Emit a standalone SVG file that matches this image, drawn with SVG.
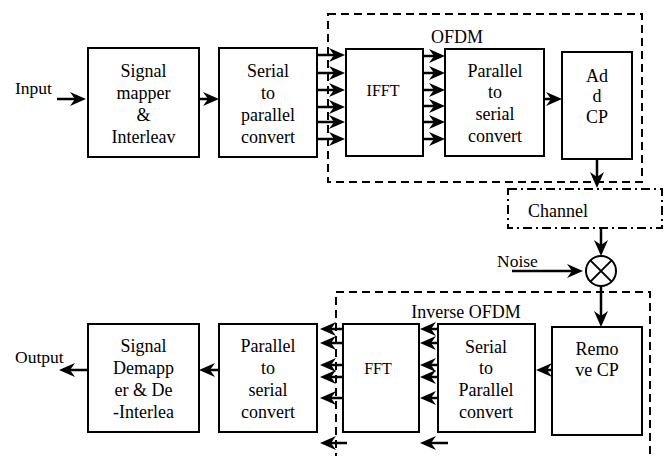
<svg xmlns="http://www.w3.org/2000/svg" xmlns:xlink="http://www.w3.org/1999/xlink" width="667" height="456" viewBox="0 0 667 456">
  <style>
    .box { fill: #fff; stroke: #000; stroke-width: 2; }
    .grp { fill: none; stroke: #000; stroke-width: 2; stroke-dasharray: 8 5; }
    .chan { fill: none; stroke: #000; stroke-width: 2; stroke-dasharray: 9 4 2 4; }
    .wire { fill: none; stroke: #000; stroke-width: 2.5; }
  </style>
  <defs>
    <!-- notched arrowhead, tip at the origin, pointing along +x -->
    <path id="ah" d="M0,0 L-16,-7 L-11,0 L-16,7 Z" fill="#000"/>
  </defs>

  <rect id="ofdm-frame" class="grp" x="328" y="14" width="314" height="168"/>
  <rect id="inverse-ofdm-frame" class="grp" x="336" y="292" width="314" height="180"/>

  <g id="connectors">
    <g class="wire">
      <path d="M57,99 H80 M199,99 H213"/>
      <path d="M317,55 H339 M317,73 H339 M317,90 H339 M317,107 H339 M317,122 H339 M317,139 H339"/>
      <path d="M423,56 H439 M423,73 H439 M423,90 H439 M423,106 H439 M423,122 H439 M423,139 H439"/>
      <path d="M544,99 H556"/>
      <path d="M597,145 V182 M601,228 V250 M512,271 H577 M601,286 V321"/>
      <path d="M552,370 H542"/>
      <path d="M439,329 H426 M439,343 H426 M439,365 H426 M439,377 H426 M439,398 H426 M448,443 H426"/>
      <path d="M343,329 H326 M343,343 H326 M343,365 H326 M343,377 H326 M343,398 H326 M347,443 H326"/>
      <path d="M219,370 H205 M88,370 H65"/>
    </g>
    <g id="heads">
      <use xlink:href="#ah" href="#ah" transform="translate(86,99)"/>
      <use xlink:href="#ah" href="#ah" transform="translate(219,99)"/>
      <use xlink:href="#ah" href="#ah" transform="translate(345,55)"/>
      <use xlink:href="#ah" href="#ah" transform="translate(345,73)"/>
      <use xlink:href="#ah" href="#ah" transform="translate(345,90)"/>
      <use xlink:href="#ah" href="#ah" transform="translate(345,107)"/>
      <use xlink:href="#ah" href="#ah" transform="translate(345,122)"/>
      <use xlink:href="#ah" href="#ah" transform="translate(345,139)"/>
      <use xlink:href="#ah" href="#ah" transform="translate(445,56)"/>
      <use xlink:href="#ah" href="#ah" transform="translate(445,73)"/>
      <use xlink:href="#ah" href="#ah" transform="translate(445,90)"/>
      <use xlink:href="#ah" href="#ah" transform="translate(445,106)"/>
      <use xlink:href="#ah" href="#ah" transform="translate(445,122)"/>
      <use xlink:href="#ah" href="#ah" transform="translate(445,139)"/>
      <use xlink:href="#ah" href="#ah" transform="translate(562,99)"/>
      <use xlink:href="#ah" href="#ah" transform="translate(597,188) rotate(90)"/>
      <use xlink:href="#ah" href="#ah" transform="translate(601,256) rotate(90)"/>
      <use xlink:href="#ah" href="#ah" transform="translate(583,271)"/>
      <use xlink:href="#ah" href="#ah" transform="translate(601,327) rotate(90)"/>
      <use xlink:href="#ah" href="#ah" transform="translate(536,370) rotate(180)"/>
      <use xlink:href="#ah" href="#ah" transform="translate(420,329) rotate(180)"/>
      <use xlink:href="#ah" href="#ah" transform="translate(420,343) rotate(180)"/>
      <use xlink:href="#ah" href="#ah" transform="translate(420,365) rotate(180)"/>
      <use xlink:href="#ah" href="#ah" transform="translate(420,377) rotate(180)"/>
      <use xlink:href="#ah" href="#ah" transform="translate(420,398) rotate(180)"/>
      <use xlink:href="#ah" href="#ah" transform="translate(420,443) rotate(180)"/>
      <use xlink:href="#ah" href="#ah" transform="translate(320,329) rotate(180)"/>
      <use xlink:href="#ah" href="#ah" transform="translate(320,343) rotate(180)"/>
      <use xlink:href="#ah" href="#ah" transform="translate(320,365) rotate(180)"/>
      <use xlink:href="#ah" href="#ah" transform="translate(320,377) rotate(180)"/>
      <use xlink:href="#ah" href="#ah" transform="translate(320,398) rotate(180)"/>
      <use xlink:href="#ah" href="#ah" transform="translate(320,443) rotate(180)"/>
      <use xlink:href="#ah" href="#ah" transform="translate(199,370) rotate(180)"/>
      <use xlink:href="#ah" href="#ah" transform="translate(59,370) rotate(180)"/>
    </g>
  </g>

  <g id="boxes" font-family="Liberation Serif, Times New Roman, serif" font-size="18" text-anchor="middle" fill="#000">
    <g id="frame-labels">
      <text x="457" y="43">OFDM</text>
      <text x="466" y="318">Inverse OFDM</text>
    </g>
    <g id="input">
      <text x="15" y="94" text-anchor="start" font-size="17.5">Input</text>
    </g>
    <g id="signal-mapper">
      <rect class="box" x="88" y="48" width="111" height="109"/>
      <text x="143.5" y="77">Signal</text>
      <text x="143.5" y="99">mapper</text>
      <text x="143.5" y="121">&amp;</text>
      <text x="143.5" y="143">Interleav</text>
    </g>
    <g id="serial-to-parallel-tx">
      <rect class="box" x="219" y="48" width="98" height="109"/>
      <text x="268" y="77">Serial</text>
      <text x="268" y="99">to</text>
      <text x="268" y="121">parallel</text>
      <text x="268" y="143">convert</text>
    </g>
    <g id="ifft">
      <rect class="box" x="346" y="49" width="77" height="107"/>
      <text x="383" y="96" font-size="16">IFFT</text>
    </g>
    <g id="parallel-to-serial-tx">
      <rect class="box" x="445" y="49" width="99" height="107"/>
      <text x="495" y="77">Parallel</text>
      <text x="495" y="98">to</text>
      <text x="495" y="120">serial</text>
      <text x="495" y="142">convert</text>
    </g>
    <g id="add-cp">
      <rect class="box" x="562" y="52" width="70" height="107"/>
      <text x="597" y="82">Ad</text>
      <text x="597" y="102">d</text>
      <text x="597" y="123">CP</text>
    </g>
    <g id="channel">
      <rect class="chan" x="508" y="189" width="154" height="39"/>
      <text x="558" y="217">Channel</text>
    </g>
    <g id="noise">
      <text x="497" y="267" text-anchor="start" font-size="17.5">Noise</text>
    </g>
    <g id="mixer">
      <circle cx="601" cy="271" r="15" fill="#fff" stroke="#000" stroke-width="2"/>
      <path d="M590.4,260.4 L611.6,281.6 M611.6,260.4 L590.4,281.6" stroke="#000" stroke-width="2"/>
    </g>
    <g id="remove-cp">
      <rect class="box" x="552" y="327" width="90" height="108"/>
      <text x="597" y="355">Remo</text>
      <text x="597" y="376">ve CP</text>
    </g>
    <g id="serial-to-parallel-rx">
      <rect class="box" x="438" y="324" width="97" height="108"/>
      <text x="486" y="353">Serial</text>
      <text x="486" y="374">to</text>
      <text x="486" y="396">Parallel</text>
      <text x="486" y="418">convert</text>
    </g>
    <g id="fft">
      <rect class="box" x="343" y="324" width="76" height="108"/>
      <text x="378" y="374" font-size="16">FFT</text>
    </g>
    <g id="parallel-to-serial-rx">
      <rect class="box" x="219" y="324" width="98" height="108"/>
      <text x="268" y="352">Parallel</text>
      <text x="268" y="374">to</text>
      <text x="268" y="396">serial</text>
      <text x="268" y="418">convert</text>
    </g>
    <g id="signal-demapper">
      <rect class="box" x="88" y="324" width="111" height="108"/>
      <text x="143.5" y="352">Signal</text>
      <text x="143.5" y="374">Demapp</text>
      <text x="143.5" y="396">er &amp; De</text>
      <text x="143.5" y="418">-Interlea</text>
    </g>
    <g id="output">
      <text x="15" y="363" text-anchor="start" font-size="17.5">Output</text>
    </g>
  </g>
</svg>
